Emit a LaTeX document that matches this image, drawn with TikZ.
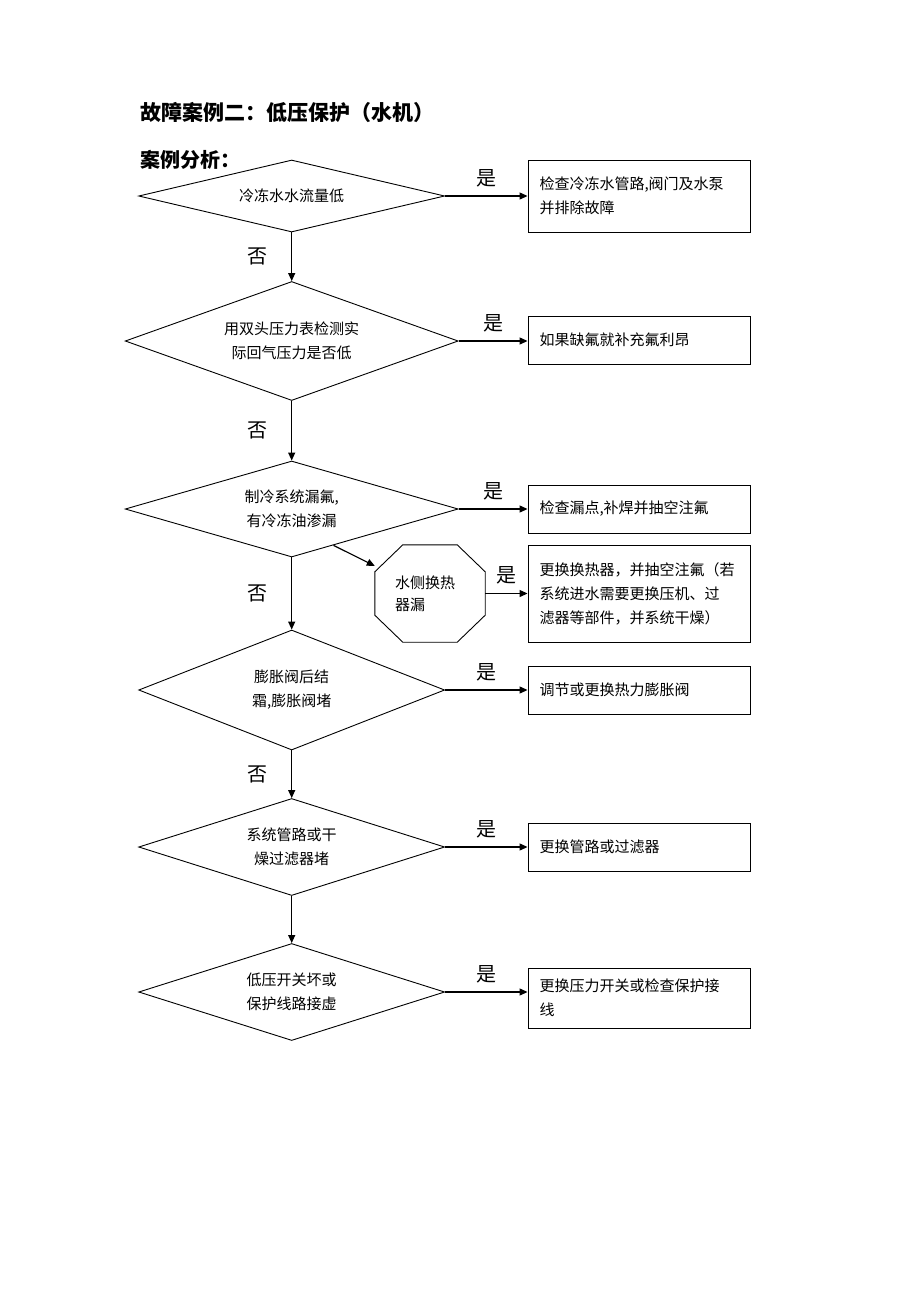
\documentclass[tikz,border=0pt]{standalone}
\usepackage{fontspec}
\setmainfont{Noto Sans CJK SC}
\usetikzlibrary{arrows.meta,shapes.geometric,positioning,calc}

\begin{document}
\begin{tikzpicture}[x=1pt, y=-1pt, >={Triangle[length=8pt,width=7pt]},
  decision/.style={draw, diamond, aspect=3, line width=0.9pt, inner sep=0pt,
    align=center, font=\fontsize{15}{24}\selectfont},
  action/.style={draw, rectangle, line width=0.9pt, minimum width=222pt,
    text width=199pt, inner xsep=11.5pt, align=left,
    font=\fontsize{15}{24}\selectfont},
  flow/.style={->, line width=1.2pt},
  yes/.style={above, midway, yshift=5pt, font=\fontsize{20}{20}\selectfont},
  no/.style={left=20pt, midway, font=\fontsize{20}{20}\selectfont}]

\useasboundingbox (0,0) rectangle (920,1302);

\node [anchor=west, inner sep=0pt, font=\bfseries\fontsize{21}{21}\selectfont]
  (title) at (140,112) {故障案例二：低压保护（水机）};
\node [anchor=west, inner sep=0pt, font=\bfseries\fontsize{20}{20}\selectfont]
  (subtitle) at (140,160) {案例分析：};

\foreach \n/\y/\w/\h/\t in {1/196/306/72/{冷冻水水流量低},
    2/341/333/119/{用双头压力表检测实\\际回气压力是否低},
    3/509/333/96/{制冷系统漏氟,\\有冷冻油渗漏},
    4/690/306/120/{膨胀阀后结\\霜,膨胀阀堵},
    5/847/306/97/{系统管路或干\\燥过滤器堵},
    6/992/306/97/{低压开关坏或\\保护线路接虚}}
  \node [decision, minimum width=\w, minimum height=\h] (check-\n) at (291.7,\y) {\t};

\foreach \n/\y/\h/\t in {1/196/72/{检查冷冻水管路,阀门及水泵\\并排除故障},
    2/340/48/{如果缺氟就补充氟利昂},
    3/509/48/{检查漏点,补焊并抽空注氟},
    4/690/48/{调节或更换热力膨胀阀},
    5/847/48/{更换管路或过滤器},
    6/998/60/{更换压力开关或检查保护接\\线}}
  \node [action, minimum height=\h] (fix-\n) at (639,\y) {\t};

% octagon: corners cut from the node box
\node [minimum width=110pt, minimum height=97pt, inner sep=0pt, text width=70pt,
  align=left, font=\fontsize{15}{22}\selectfont] (leak) at (430,593.5) {水侧换热\\器漏};
\draw [line width=0.9pt] ($(leak.north west)+(28,0)$) -- ($(leak.north east)+(-28,0)$)
  -- ($(leak.north east)+(0,27)$) -- ($(leak.south east)+(0,-27)$)
  -- ($(leak.south east)+(-28,0)$) -- ($(leak.south west)+(28,0)$)
  -- ($(leak.south west)+(0,-27)$) -- ($(leak.north west)+(0,27)$) -- cycle;

\node [action, minimum height=97pt] (fix-leak) at (639,593.5)
  {更换换热器，并抽空注氟（若\\系统进水需要更换压机、过\\滤器等部件，并系统干燥）};

\foreach \i in {1,...,6}
  \draw [flow] (check-\i.east) -- (check-\i.east -| fix-\i.west) node [yes] {是};

\foreach \i [evaluate=\i as \j using int(\i+1)] in {1,...,4}
  \draw [flow] (check-\i) -- (check-\j) node [no] {否};

\draw [flow] (check-5) -- (check-6);

\draw [flow] (check-3.-41) -- (leak);
\draw [flow] (leak) -- (fix-leak) node [yes] {是};

\end{tikzpicture}
\end{document}
